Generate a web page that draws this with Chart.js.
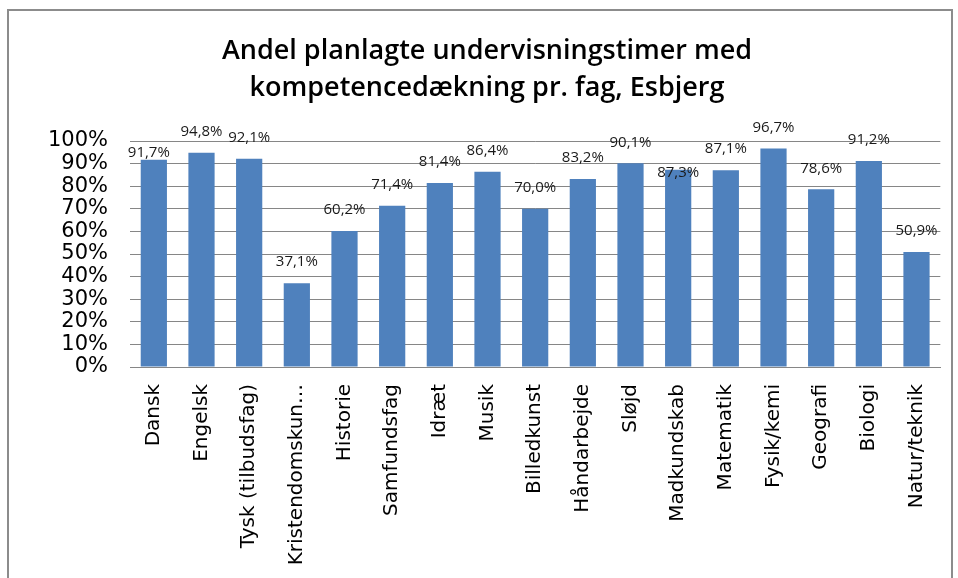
<!DOCTYPE html>
<html>
<head>
<meta charset="utf-8">
<script src="https://cdn.jsdelivr.net/npm/chart.js@4/dist/chart.umd.min.js"></script>
<style>
html,body{margin:0;padding:0;background:#fff;overflow:hidden;}
#wrap{position:absolute;left:0;top:0;width:958px;height:578px;}
#frame{position:absolute;left:7px;top:9px;width:946px;height:600px;border:2px solid #8c8c8c;box-sizing:border-box;}
canvas{position:absolute;left:0;top:0;}
</style>
</head>
<body>
<div id="wrap">
<div id="frame"></div>
<canvas id="c" width="958" height="578"></canvas>
</div>
<script>
const titleLines = ["Andel planlagte undervisningstimer med", "kompetencedækning pr. fag, Esbjerg"];
const categories = ["Dansk","Engelsk","Tysk (tilbudsfag)","Kristendomskun…","Historie","Samfundsfag","Idræt","Musik","Billedkunst","Håndarbejde","Sløjd","Madkundskab","Matematik","Fysik/kemi","Geografi","Biologi","Natur/teknik"];
const values = [91.7,94.8,92.1,37.1,60.2,71.4,81.4,86.4,70.0,83.2,90.1,87.3,87.1,96.7,78.6,91.2,50.9];
const yTicks = [0,10,20,30,40,50,60,70,80,90,100];

const FONT = "'Open Sans', 'DejaVu Sans', sans-serif";
const WIDE = "'DejaVu Sans', sans-serif";

const labelPlugin = {
  id: 'barLabels',
  afterDatasetsDraw(chart, args, opts) {
    const ctx = chart.ctx;
    const meta = chart.getDatasetMeta(0);
    ctx.save();
    ctx.font = opts.font;
    ctx.fillStyle = opts.color;
    ctx.textAlign = 'center';
    ctx.textBaseline = 'middle';
    meta.data.forEach((bar, i) => {
      const adj = (opts.adjust && opts.adjust[i]) || {dx:0, dy:0};
      const txt = values[i].toFixed(1).replace('.', ',') + '%';
      ctx.fillText(txt, bar.x + adj.dx, bar.y - opts.offset + adj.dy);
    });
    ctx.restore();
  }
};

const titlePlugin = {
  id: 'customTitle',
  afterDraw(chart, args, opts) {
    const ctx = chart.ctx;
    ctx.save();
    ctx.font = opts.font;
    ctx.fillStyle = opts.color;
    ctx.textAlign = 'center';
    ctx.textBaseline = 'middle';
    titleLines.forEach((line, i) => {
      ctx.fillText(line, opts.x, opts.y + i * opts.lineGap);
    });
    ctx.restore();
  }
};

new Chart(document.getElementById('c'), {
  type: 'bar',
  data: {
    labels: categories,
    datasets: [{
      data: values,
      backgroundColor: '#4F81BD',
      borderWidth: 0,
      barPercentage: 0.55,
      categoryPercentage: 1.0
    }]
  },
  plugins: [labelPlugin, titlePlugin],
  options: {
    responsive: false,
    animation: false,
    devicePixelRatio: 1,
    layout: { padding: { left: 0, right: 17, top: 141, bottom: 0 } },
    plugins: {
      legend: { display: false },
      tooltip: { enabled: false },
      title: { display: false },
      customTitle: {
        font: "600 27px " + FONT,
        color: '#000',
        x: 487,
        y: 51,
        lineGap: 37
      },
      barLabels: {
        font: "15px " + FONT,
        color: '#1a1a1a',
        offset: 21,
        adjust: { 0: {dx: -5, dy: 14}, 11: {dx: 0, dy: 24} }
      }
    },
    scales: {
      x: {
        grid: { display: false, drawTicks: false },
        border: { display: true, color: '#868686', width: 1 },
        ticks: {
          color: '#000',
          font: { family: WIDE, size: 20 },
          minRotation: 90, maxRotation: 90,
          autoSkip: false,
          padding: 17
        },
        afterFit(scale) { scale.height = 211; }
      },
      y: {
        min: 0, max: 100,
        afterBuildTicks(scale) { scale.ticks = yTicks.map(v => ({ value: v })); },
        grid: { color: '#868686', lineWidth: 1, drawTicks: false },
        border: { display: false },
        ticks: {
          color: '#000',
          font: { family: WIDE, size: 21 },
          padding: 22,
          autoSkip: false,
          callback: v => v + '%'
        },
        afterFit(scale) { scale.width = 130; }
      }
    }
  }
});
</script>
</body>
</html>
